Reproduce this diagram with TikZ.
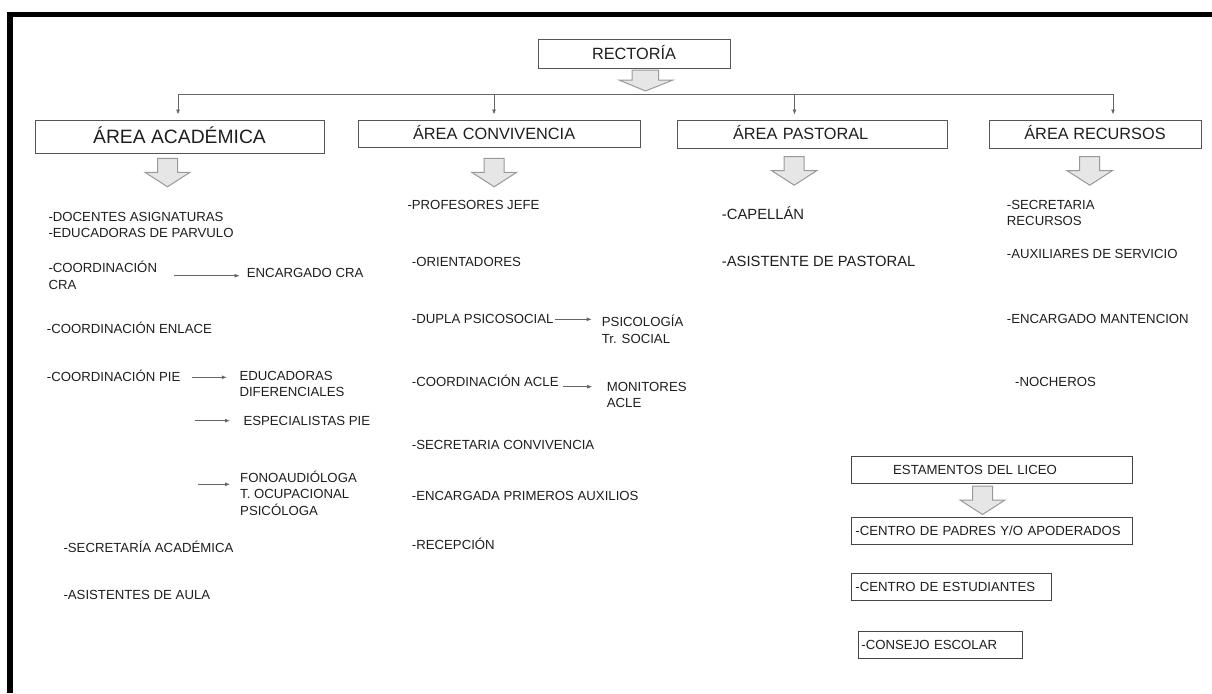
\documentclass[tikz,border=0pt]{standalone}
\usepackage{fontspec}
\setmainfont{Liberation Sans}
\usetikzlibrary{arrows.meta}
\definecolor{txt}{HTML}{1E1E1E}
\definecolor{boxc}{HTML}{555555}
\definecolor{conc}{HTML}{666666}
\definecolor{arrf}{HTML}{E6E6E6}
\definecolor{arrd}{HTML}{999999}
\tikzset{
  sm/.style={anchor=west,inner sep=0pt,text height=9.45pt,text depth=0pt,font=\fontsize{13.2}{15}\selectfont,text=txt},
  pm/.style={anchor=west,inner sep=0pt,text height=10.6pt,text depth=0pt,font=\fontsize{14.8}{17}\selectfont,text=txt},
  hbox/.style={draw=boxc,line width=0.9pt,inner sep=0pt,text height=11.7pt,text depth=0pt,font=\fontsize{16.3}{19}\selectfont,text=txt},
  ebox/.style={draw=boxc!80!black,line width=0.9pt,anchor=north west,inner ysep=0pt,align=left,text height=9.45pt,text depth=0pt,font=\fontsize{13.2}{15}\selectfont,text=txt},
  conn/.style={draw=conc,line width=0.8pt,-{Latex[length=5pt,width=4pt]}},
  blockarrow/.pic={\path[fill=arrf,draw=arrd,line width=1pt,line join=miter]
     (-10,0) -- (10,0) -- (10,14) -- (22.5,14) -- (0,28.5) -- (-22.5,14) -- (-10,14) -- cycle;}
}
\begin{document}
\begin{tikzpicture}[x=1pt,y=-1pt]
\useasboundingbox (0,0) rectangle (1212,693);
% frame
\fill[black] (7,12) rectangle (1212,17.5);
\fill[black] (7,12) rectangle (13,693);

% top
\node[hbox,minimum width=192pt,minimum height=29pt] (rect) at (634,53.5) {RECTORÍA};
\path[fill=arrf,draw=arrd,line width=1pt,line join=miter]
  (632,70) -- (658.5,70) -- (658.5,80) -- (673,80) -- (645.5,91) -- (619,80) -- (632,80) -- cycle;

\coordinate (b1) at (178,94.3);
\coordinate (b2) at (494,94.3);
\coordinate (b3) at (794.5,94.3);
\coordinate (b4) at (1113,94.3);
\draw[draw=conc,line width=0.8pt] (b1) -- (b4);

% headers
\node[hbox,minimum width=289pt,minimum height=33pt,text height=13.8pt,font=\fontsize{19.3}{22}\selectfont] (acad) at (179.5,136.5) {ÁREA ACADÉMICA};
\node[hbox,minimum height=27pt,text width=172pt,align=left,inner xsep=55pt] (conv) at (499,133.5) {ÁREA CONVIVENCIA};
\node[hbox,minimum height=28pt,text width=158pt,align=left,inner xsep=56pt] (past) at (812,134) {ÁREA PASTORAL};
\node[hbox,minimum width=212pt,minimum height=28pt] (recu) at (1095,134) {ÁREA RECURSOS};

\draw[conn,shorten >=5pt] (b1) -- (b1 |- acad.north);
\draw[conn,shorten >=5pt] (b2) -- (b2 |- conv.north);
\draw[conn,shorten >=5pt] (b3) -- (b3 |- past.north);
\draw[conn,shorten >=5pt] (b4) -- (b4 |- recu.north);

% block arrows below headers
\pic at (167.5,158.3) {blockarrow};
\pic at (494.2,158.3) {blockarrow};
\pic at (794.2,156.7) {blockarrow};
\pic at (1089.7,156.7) {blockarrow};

% Academica column
\node[sm] (doc) at (48.3,216.7) {-DOCENTES ASIGNATURAS};
\node[sm] (edp) at (48.3,232.3) {-EDUCADORAS DE PARVULO};
\node[sm] (ccra1) at (48.3,267.7) {-COORDINACIÓN};
\node[sm] (ccra2) at (48.3,284.7) {CRA};
\node[sm] (encra) at (246.7,272.8) {ENCARGADO CRA};
\node[sm] (cenl) at (46.7,328.3) {-COORDINACIÓN ENLACE};
\node[sm] (cpie) at (46.7,376.7) {-COORDINACIÓN PIE};
\node[sm] (edif1) at (239.3,376) {EDUCADORAS};
\node[sm] (edif2) at (239.3,391.7) {DIFERENCIALES};
\node[sm] (espie) at (243.3,420.7) {ESPECIALISTAS PIE};
\node[sm] (fono1) at (240,477.7) {FONOAUDIÓLOGA};
\node[sm] (fono2) at (240,494.2) {T. OCUPACIONAL};
\node[sm] (fono3) at (240,510.3) {PSICÓLOGA};
\node[sm] (secac) at (63.3,547.3) {-SECRETARÍA ACADÉMICA};
\node[sm] (asis) at (63.3,595) {-ASISTENTES DE AULA};

\coordinate (a1s) at (174,275.7);
\coordinate (a2s) at (191.7,377.3);
\coordinate (a3s) at (195,420.7);
\coordinate (a4s) at (198,484.3);
\draw[conn] (a1s) -- (a1s -| encra.west) [shorten >=7pt];
\draw[conn,shorten >=12.5pt] (a2s) -- (a2s -| edif1.west);
\draw[conn,shorten >=13.3pt] (a3s) -- (a3s -| espie.west);
\draw[conn,shorten >=10pt] (a4s) -- (a4s -| fono1.west);

% Convivencia column
\node[sm] (prof) at (407.3,205) {-PROFESORES JEFE};
\node[sm] (ori) at (411.7,261.7) {-ORIENTADORES};
\node[sm] (dupla) at (411.7,318.3) {-DUPLA PSICOSOCIAL};
\node[sm] (psi1) at (601.7,321.7) {PSICOLOGÍA};
\node[sm] (psi2) at (601.7,338.3) {Tr. SOCIAL};
\node[sm] (acle) at (411.7,381.7) {-COORDINACIÓN ACLE};
\node[sm] (mon1) at (606.7,386.7) {MONITORES};
\node[sm] (mon2) at (606.7,402.7) {ACLE};
\node[sm] (secco) at (411.7,444.3) {-SECRETARIA CONVIVENCIA};
\node[sm] (prim) at (411.7,496) {-ENCARGADA PRIMEROS AUXILIOS};
\node[sm] (recep) at (411.7,545) {-RECEPCIÓN};

\coordinate (c1s) at (555,319.3);
\coordinate (c2s) at (563,386.7);
\draw[conn,shorten >=10pt] (c1s) -- (c1s -| psi1.west);
\draw[conn,shorten >=14.5pt] (c2s) -- (c2s -| mon1.west);

% Pastoral column
\node[pm] (cap) at (721.7,214) {-CAPELLÁN};
\node[pm] (asp) at (721.7,261) {-ASISTENTE DE PASTORAL};

% Recursos column
\node[sm] (secr1) at (1006.7,204.5) {-SECRETARIA};
\node[sm] (secr2) at (1006.7,220.7) {RECURSOS};
\node[sm] (aux) at (1006.7,254.2) {-AUXILIARES DE SERVICIO};
\node[sm] (mant) at (1006.7,318.3) {-ENCARGADO MANTENCION};
\node[sm] (noch) at (1015,381.7) {-NOCHEROS};

% Estamentos
\node[ebox,text width=197.6pt,inner xsep=42pt,minimum height=27.3pt] (est) at (850.7,456) {ESTAMENTOS DEL LICEO};
\pic at (982.5,486) {blockarrow};
\node[ebox,text width=273pt,inner xsep=4.3pt,minimum height=27.3pt] (padres) at (850.7,516.7) {-CENTRO DE PADRES Y/O APODERADOS};
\node[ebox,text width=191.4pt,inner xsep=4.3pt,minimum height=26.7pt] (estud) at (850.7,573.3) {-CENTRO DE ESTUDIANTES};
\node[ebox,text width=157.4pt,inner xsep=3.3pt,minimum height=27pt] (cons) at (857.7,630.7) {-CONSEJO ESCOLAR};
\end{tikzpicture}
\end{document}
